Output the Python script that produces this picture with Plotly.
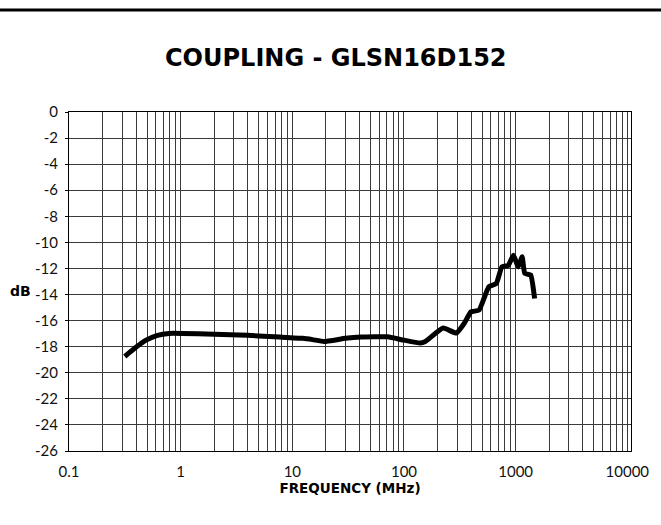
import plotly.graph_objects as go

freq_mhz = [0.316, 0.40, 0.49, 0.62, 0.785, 1.03, 2.0, 3.95, 7.7, 12.4, 15.2, 19.2,
            29.8, 41.7, 54.6, 71.5, 100, 140, 155, 224, 294, 347, 398, 470, 575,
            671, 753, 862, 955, 1056, 1143, 1207, 1363, 1478]
coupling_db = [-18.75, -18.03, -17.5, -17.13, -16.98, -16.98, -17.05, -17.13, -17.26,
               -17.36, -17.46, -17.6, -17.36, -17.26, -17.24, -17.24, -17.5, -17.72,
               -17.6, -16.57, -16.95, -16.2, -15.33, -15.2, -13.4, -13.15, -11.88,
               -11.75, -10.98, -11.88, -11.1, -12.38, -12.5, -14.3]

x_tick_vals = [0.1, 1, 10, 100, 1000, 10000]
x_tick_text = ["0.1", "1", "10", "100", "1000", "10000"]
y_tick_vals = list(range(0, -27, -2))
y_tick_text = [str(v) for v in y_tick_vals]

tick_font = "Lato, 'DejaVu Sans', sans-serif"
bold_font = "'DejaVu Sans', sans-serif"
grid_col = "#3a3a3a"

fig = go.Figure()
fig.add_trace(go.Scatter(
    x=freq_mhz, y=coupling_db, mode="lines",
    line=dict(color="black", width=5, shape="spline", smoothing=0.4),
    showlegend=False, hoverinfo="skip",
))

fig.update_layout(
    width=661, height=525,
    margin=dict(l=69, r=23, t=112, b=74),
    paper_bgcolor="white", plot_bgcolor="white",
    title=dict(text="<b>COUPLING - GLSN16D152</b>", x=0.508, xref="container",
               xanchor="center", y=0.891, yref="container", yanchor="middle",
               font=dict(family=bold_font, size=24, color="black")),
    font=dict(family=tick_font, size=15, color="black"),
    xaxis=dict(type="log", range=[-1, 4.033], tickvals=x_tick_vals, ticktext=x_tick_text,
               showgrid=True, gridcolor=grid_col, gridwidth=1,
               minor=dict(dtick="D1", showgrid=True, gridcolor=grid_col, gridwidth=1),
               showline=True, linecolor="black", linewidth=1, mirror=True,
               ticks="", zeroline=False, ticklabelstandoff=7,
               tickfont=dict(family=tick_font, size=15, color="#111"),
               title=dict(text="<b>FREQUENCY (MHz)</b>", standoff=2,
                          font=dict(family=bold_font, size=13.5, color="black"))),
    yaxis=dict(range=[-26, 0], tickvals=y_tick_vals, ticktext=y_tick_text,
               showgrid=True, gridcolor=grid_col, gridwidth=1,
               showline=True, linecolor="black", linewidth=1, mirror=True,
               ticks="outside", ticklen=3, tickcolor="black", zeroline=False,
               ticklabelstandoff=4,
               tickfont=dict(family=tick_font, size=15, color="#111")),
    shapes=[dict(type="line", xref="paper", yref="paper", x0=-0.2, x1=1.2,
                 y0=1.301, y1=1.301, line=dict(color="black", width=3))],
    annotations=[dict(text="<b>dB</b>", xref="paper", yref="paper", x=-0.0645, y=0.473,
                      xanchor="right", yanchor="middle", showarrow=False,
                      font=dict(family=bold_font, size=14, color="black"))],
)

fig.write_html("out.html", config={"displayModeBar": False},
               post_script="document.body.style.margin='0px';document.body.style.padding='0px';")
